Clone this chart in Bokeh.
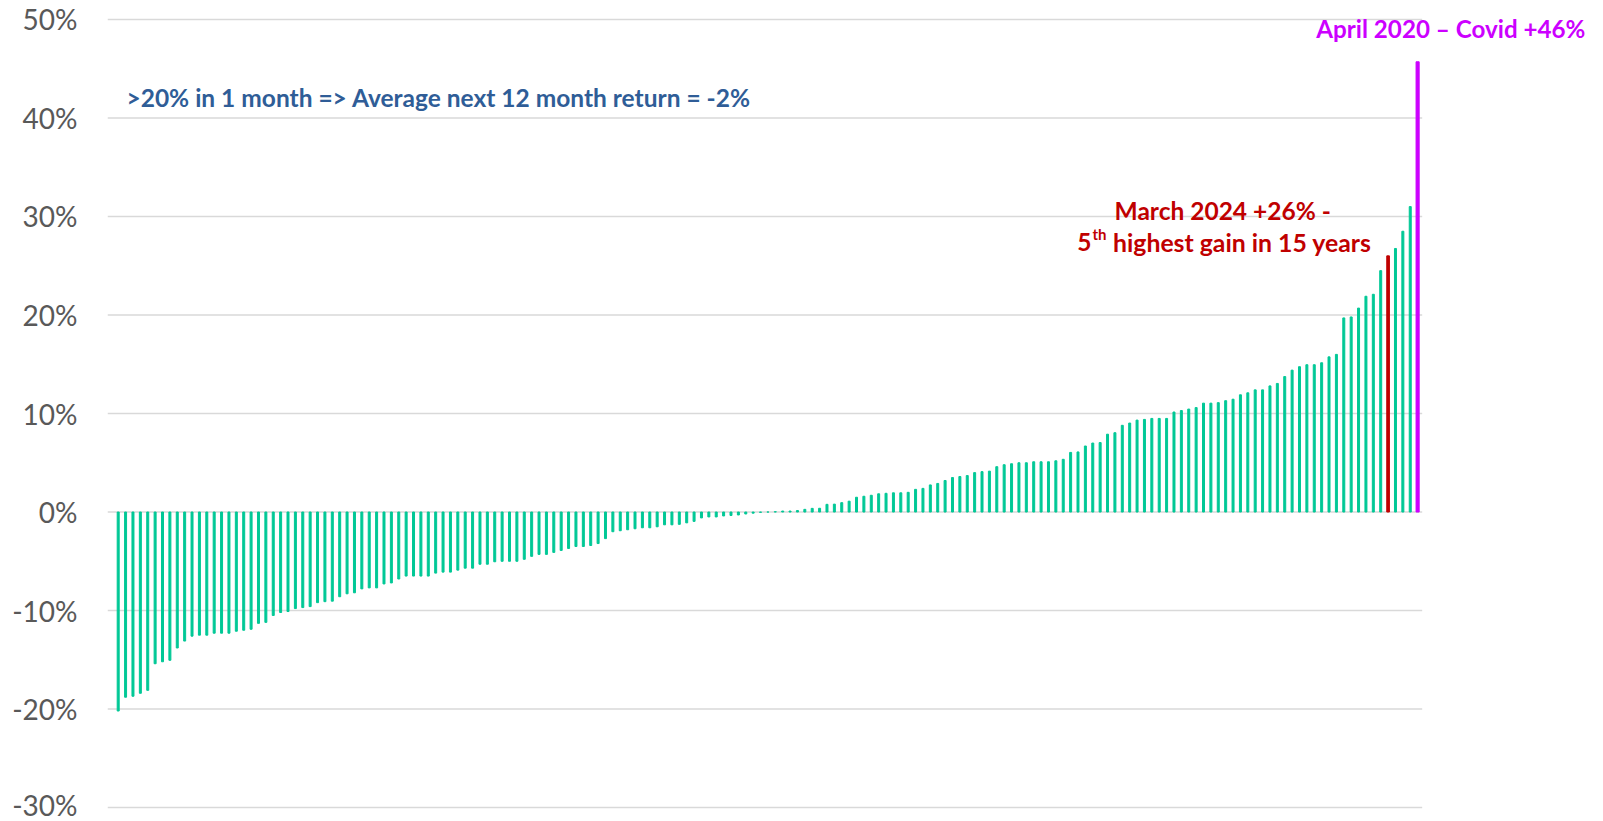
from bokeh.plotting import figure
from bokeh.models import Range1d, Label, PrintfTickFormatter, FixedTicker, ColumnDataSource
from bokeh.embed import file_html
from bokeh.resources import INLINE

# Monthly returns (%), sorted ascending; 177 months
returns = [
    -20.2, -18.8, -18.7, -18.4, -18.1, -15.4, -15.2, -15.05, -13.8, -13.1,
    -12.6, -12.5, -12.5, -12.3, -12.3, -12.3, -12.1, -12.0, -11.9, -11.3,
    -11.2, -10.5, -10.2, -10.1, -9.8, -9.7, -9.6, -9.2, -9.1, -9.05,
    -8.6, -8.3, -8.2, -7.8, -7.7, -7.7, -7.3, -7.2, -6.8, -6.5,
    -6.5, -6.5, -6.5, -6.2, -6.1, -6.1, -5.9, -5.7, -5.7, -5.3,
    -5.3, -5.05, -5.0, -5.0, -5.0, -4.8, -4.5, -4.3, -4.3, -4.1,
    -3.9, -3.7, -3.5, -3.5, -3.4, -3.2, -2.7, -2.0, -1.9, -1.8,
    -1.7, -1.6, -1.6, -1.5, -1.3, -1.3, -1.25, -1.1, -0.95, -0.6,
    -0.5, -0.5, -0.4, -0.35, -0.3, -0.2, -0.12, -0.03, 0.0, 0.03,
    0.1, 0.1, 0.15, 0.27, 0.37, 0.38, 0.78, 0.8, 0.95, 1.1,
    1.5, 1.6, 1.7, 1.85, 1.9, 1.95, 1.95, 2.0, 2.3, 2.4,
    2.75, 2.9, 3.2, 3.5, 3.6, 3.7, 4.0, 4.1, 4.15, 4.6,
    4.8, 4.9, 5.0, 5.0, 5.1, 5.1, 5.1, 5.2, 5.35, 6.05,
    6.1, 6.7, 7.0, 7.05, 7.9, 8.05, 8.8, 9.03, 9.33, 9.4,
    9.5, 9.5, 9.5, 10.15, 10.3, 10.45, 10.6, 11.05, 11.05, 11.1,
    11.3, 11.45, 11.9, 12.1, 12.4, 12.4, 12.8, 13.05, 13.75, 14.4,
    14.75, 14.95, 14.95, 15.15, 15.75, 16.0, 19.7, 19.8, 20.7, 21.9,
    22.1, 24.5, 26.0, 26.75, 28.5, 31.0, 45.7,
]
march_2024_rank = 172   # position of March 2024 (+26%) in sorted list
april_2020_rank = 176   # position of April 2020 (+46%) in sorted list

y_ticks = [-30, -20, -10, 0, 10, 20, 30, 40, 50]

GREEN = "#00C896"
RED = "#C00000"
PURPLE = "#CC00FF"
BLUE = "#2F5D97"
GRID = "#D9D9D9"

n = len(returns)
xs = list(range(n))
colors = [GREEN] * n
widths = [0.27] * n
colors[march_2024_rank] = RED
widths[march_2024_rank] = 0.36
colors[april_2020_rank] = PURPLE
widths[april_2020_rank] = 0.42

src = ColumnDataSource(dict(x=xs, top=returns, color=colors, w=widths))

# gridlines span the bar area only; frame extends right to leave room for the label
grid_x0 = -1.449
grid_x1 = n - 1 + 0.62

p = figure(width=1600, height=821, output_backend="svg", toolbar_location=None,
           x_axis_type=None, x_range=Range1d(grid_x0, 200.77), y_range=Range1d(-30.5, 50.5),
           min_border_left=107, min_border_right=0, min_border_top=14, min_border_bottom=9)
p.outline_line_color = None
p.background_fill_color = "white"
p.border_fill_color = "white"
p.ygrid.visible = False

p.segment(x0=[grid_x0] * len(y_ticks), x1=[grid_x1] * len(y_ticks), y0=y_ticks, y1=y_ticks,
          line_color=GRID, line_width=1.6)

p.vbar(x="x", top="top", bottom=0, width="w", color="color", source=src)

ya = p.yaxis[0]
ya.ticker = FixedTicker(ticks=y_ticks)
ya.formatter = PrintfTickFormatter(format="%d%%")
ya.axis_line_color = None
ya.major_tick_line_color = None
ya.minor_tick_line_color = None
ya.major_tick_in = 0
ya.major_tick_out = 0
ya.major_label_standoff = 30
ya.major_label_text_font = "Lato"
ya.major_label_text_font_size = "28px"
ya.major_label_text_color = "#595959"

FONT = "Lato"

p.add_layout(Label(x=1.12, y=42.08, text=">20% in 1 month => Average next 12 month return = -2%",
                   text_font=FONT, text_font_style="bold", text_font_size="24.5px",
                   text_color=BLUE, text_align="left", text_baseline="alphabetic"))

p.add_layout(Label(x=149.6, y=30.58, text="March 2024 +26% -",
                   text_font=FONT, text_font_style="bold", text_font_size="24.5px",
                   text_color=RED, text_align="center", text_baseline="alphabetic"))
p.add_layout(Label(x=169.75, y=27.38, text="highest gain in 15 years",
                   text_font=FONT, text_font_style="bold", text_font_size="24.8px",
                   text_color=RED, text_align="right", text_baseline="alphabetic"))
p.add_layout(Label(x=169.75, x_offset=-265, y=28.18, text="th",
                   text_font=FONT, text_font_style="bold", text_font_size="15px",
                   text_color=RED, text_align="right", text_baseline="alphabetic"))
p.add_layout(Label(x=169.75, x_offset=-280, y=27.38, text="5",
                   text_font=FONT, text_font_style="bold", text_font_size="24.5px",
                   text_color=RED, text_align="right", text_baseline="alphabetic"))

p.add_layout(Label(x=180.5, y=49.08, text="April 2020 \u2013 Covid +46%",
                   text_font=FONT, text_font_style="bold", text_font_size="24.2px",
                   text_color=PURPLE, text_align="center", text_baseline="alphabetic"))

open("out.html", "w").write(file_html(p, INLINE))
